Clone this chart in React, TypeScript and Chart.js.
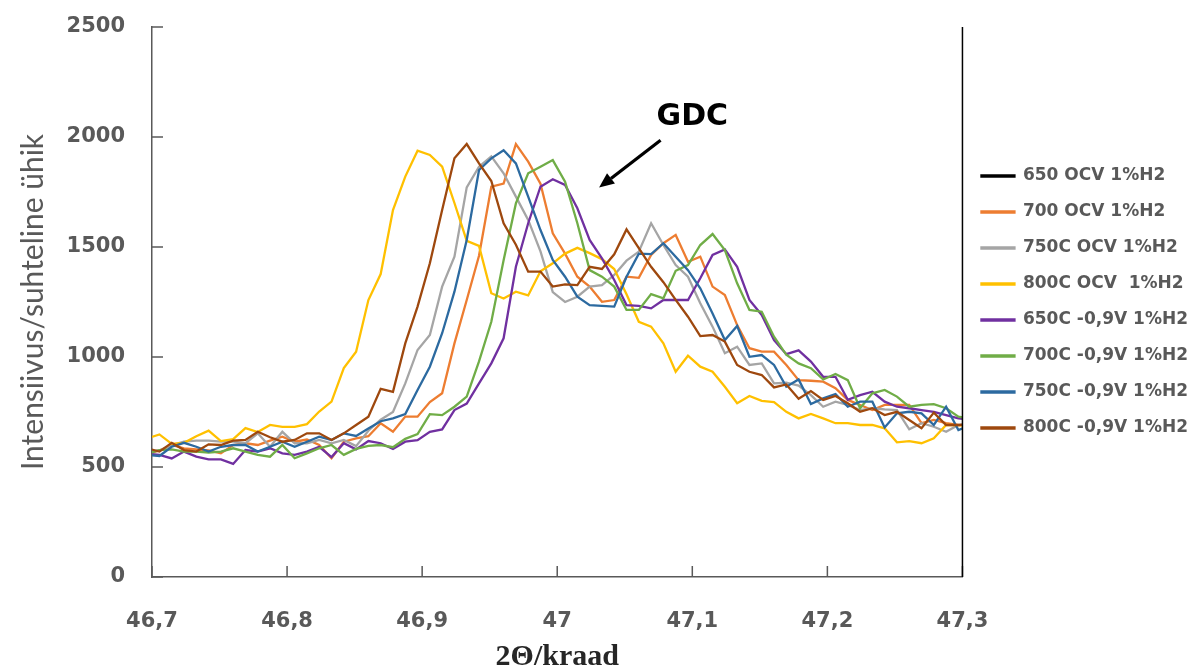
import React, { useEffect, useRef } from 'react';
import { Chart, registerables } from 'chart.js';

Chart.register(...registerables);

// 2Θ positions (measurement grid)
const XS = [
  46.6964, 46.7055, 46.7146, 46.7237, 46.7328, 46.7419, 46.7510, 46.7601, 46.7692, 46.7783,
  46.7874, 46.7965, 46.8056, 46.8147, 46.8238, 46.8329, 46.8420, 46.8511, 46.8602, 46.8693,
  46.8784, 46.8875, 46.8966, 46.9057, 46.9148, 46.9239, 46.9330, 46.9421, 46.9512, 46.9603,
  46.9694, 46.9785, 46.9876, 46.9967, 47.0058, 47.0149, 47.0240, 47.0331, 47.0422, 47.0513,
  47.0604, 47.0695, 47.0786, 47.0877, 47.0968, 47.1059, 47.1150, 47.1241, 47.1332, 47.1423,
  47.1514, 47.1605, 47.1696, 47.1787, 47.1878, 47.1969, 47.2060, 47.2151, 47.2242, 47.2333,
  47.2424, 47.2515, 47.2606, 47.2697, 47.2788, 47.2879, 47.2970, 47.3061,
];

const OCV650: number[] = [];

const OCV700 = [
  560, 575, 600, 585, 580, 575, 562, 600, 608, 600,
  620, 638, 615, 625, 600, 540, 615, 630, 640, 699,
  660, 729, 729, 795, 835, 1062, 1259, 1460, 1774, 1788,
  1968, 1888, 1788, 1562, 1470, 1365, 1320, 1251, 1259, 1365,
  1360, 1464, 1517, 1555, 1433, 1456, 1320, 1282, 1145, 1040,
  1024, 1024, 964, 895, 892, 888, 858, 805, 782, 759,
  782, 782, 782, 699, 714, 699, 691, 690,
];

const OCV750 = [
  570, 575, 600, 615, 620, 620, 615, 615, 608, 653,
  592, 660, 608, 608, 623, 608, 623, 595, 665, 715,
  750, 880, 1032, 1100, 1320, 1456, 1771, 1865, 1912, 1835,
  1729, 1623, 1480, 1295, 1250, 1274, 1320, 1327, 1373, 1438,
  1479, 1608, 1509, 1418, 1365, 1244, 1138, 1017, 1047, 964,
  971, 880, 883, 870, 827, 774, 797, 782, 759, 767,
  762, 759, 671, 699, 683, 660, 691, 695,
];

const OCV800 = [
  630, 648, 605, 610, 640, 665, 618, 627, 677, 659,
  691, 682, 682, 695, 752, 797, 950, 1024, 1259, 1377,
  1668, 1820, 1938, 1918, 1865, 1700, 1528, 1505, 1290, 1266,
  1297, 1280, 1390, 1426, 1470, 1496, 1472, 1445, 1400, 1285,
  1160, 1138, 1062, 933, 1006, 956, 933, 865, 790, 823,
  801, 795, 751, 721, 741, 721, 699, 699, 691, 691,
  676, 612, 618, 608, 630, 691, 690, 685,
];

const V650 = [
  560, 555, 539, 570, 547, 535, 535, 514, 577, 570,
  585, 562, 555, 570, 592, 545, 608, 580, 618, 608,
  582, 615, 622, 660, 671, 759, 788, 880, 971, 1085,
  1410, 1608, 1774, 1808, 1782, 1676, 1532, 1448, 1350, 1236,
  1232, 1221, 1259, 1259, 1259, 1358, 1464, 1489, 1410, 1259,
  1191, 1077, 1013, 1030, 979, 910, 910, 805, 827, 842,
  797, 774, 767, 759, 751, 736, 721, 716,
];

const V700 = [
  560, 577, 580, 570, 570, 566, 570, 585, 570, 555,
  547, 600, 540, 562, 585, 600, 555, 582, 596, 600,
  590, 628, 650, 740, 736, 774, 820, 980, 1160, 1440,
  1698, 1835, 1865, 1895, 1797, 1608, 1395, 1365, 1320, 1214,
  1214, 1286, 1267, 1392, 1418, 1509, 1559, 1486, 1335, 1214,
  1206, 1092, 1010, 971, 949, 898, 923, 895, 767, 835,
  850, 820, 774, 782, 786, 767, 729, 720,
];

const V750 = [
  555, 550, 592, 610, 592, 570, 592, 600, 600, 570,
  592, 615, 592, 615, 638, 623, 653, 641, 675, 708,
  721, 741, 850, 956, 1108, 1297, 1532, 1850, 1903, 1940,
  1880, 1729, 1577, 1441, 1365, 1274, 1236, 1232, 1229, 1365,
  1470, 1468, 1517, 1456, 1395, 1312, 1198, 1077, 1141, 1001,
  1009, 964, 865, 898, 786, 812, 832, 774, 797, 797,
  680, 744, 751, 744, 691, 774, 668, 690,
];

const V800 = [
  585, 570, 610, 577, 570, 603, 600, 620, 623, 660,
  635, 615, 623, 653, 653, 623, 653, 691, 729, 855,
  842, 1062, 1229, 1426, 1668, 1903, 1968, 1880, 1800, 1608,
  1510, 1388, 1388, 1320, 1330, 1327, 1410, 1400, 1467, 1580,
  1495, 1410, 1340, 1260, 1183, 1095, 1100, 1070, 964, 933,
  918, 862, 875, 810, 845, 805, 823, 790, 751, 767,
  736, 751, 714, 676, 747, 691, 691, 695,
];

const SERIES_NAMES = [
  '650 OCV 1%H2',
  '700 OCV 1%H2',
  '750C OCV 1%H2',
  '800C OCV  1%H2',
  '650C -0,9V 1%H2',
  '700C -0,9V 1%H2',
  '750C -0,9V 1%H2',
  '800C -0,9V 1%H2',
];
const SERIES_VALUES = [OCV650, OCV700, OCV750, OCV800, V650, V700, V750, V800];
const SERIES_COLORS = ['#000000', '#ED7D31', '#A5A5A5', '#FFC000', '#7030A0', '#70AD47', '#2C6AA0', '#9E480E'];

const X_TICK_VALUES = [46.7, 46.8, 46.9, 47.0, 47.1, 47.2, 47.3];
const X_TICK_LABELS = ['46,7', '46,8', '46,9', '47', '47,1', '47,2', '47,3'];
const Y_TICK_VALUES = [0, 500, 1000, 1500, 2000, 2500];

const X_TITLE = '2Θ/kraad';
const Y_TITLE = 'Intensiivus/suhteline ühik';

const NOTE_TEXT = 'GDC';
const NOTE_POS = { x: 47.1, y: 2088 };
const ARROW_FROM = { x: 47.0765, y: 1985 };
const ARROW_TO = { x: 47.031, y: 1770 };

const AXIS_GRAY = '#595959';

const decorPlugin = {
  id: 'decor',
  afterDraw(chart: any) {
    const { ctx, chartArea, scales } = chart;
    const xs = scales.x;
    const ys = scales.y;
    ctx.save();
    // inside tick marks
    ctx.strokeStyle = AXIS_GRAY;
    ctx.lineWidth = 1.5;
    ctx.beginPath();
    Y_TICK_VALUES.forEach((v) => {
      const py = ys.getPixelForValue(v);
      ctx.moveTo(chartArea.left, py);
      ctx.lineTo(chartArea.left + 11, py);
    });
    X_TICK_VALUES.forEach((v) => {
      const px = xs.getPixelForValue(v);
      ctx.moveTo(px, chartArea.bottom);
      ctx.lineTo(px, chartArea.bottom - 11);
    });
    ctx.stroke();
    // right border
    ctx.strokeStyle = '#000000';
    ctx.lineWidth = 1.5;
    ctx.beginPath();
    ctx.moveTo(chartArea.right, chartArea.top);
    ctx.lineTo(chartArea.right, chartArea.bottom);
    ctx.stroke();
    // GDC annotation
    ctx.fillStyle = '#000000';
    ctx.font = 'bold 30px "DejaVu Sans"';
    ctx.textAlign = 'center';
    ctx.textBaseline = 'middle';
    ctx.fillText(NOTE_TEXT, xs.getPixelForValue(NOTE_POS.x), ys.getPixelForValue(NOTE_POS.y));
    const x1 = xs.getPixelForValue(ARROW_FROM.x);
    const y1 = ys.getPixelForValue(ARROW_FROM.y);
    const x2 = xs.getPixelForValue(ARROW_TO.x);
    const y2 = ys.getPixelForValue(ARROW_TO.y);
    const ang = Math.atan2(y2 - y1, x2 - x1);
    const head = 15;
    const half = 6.5;
    const bx = x2 - head * Math.cos(ang);
    const by = y2 - head * Math.sin(ang);
    ctx.strokeStyle = '#000000';
    ctx.lineWidth = 3.2;
    ctx.beginPath();
    ctx.moveTo(x1, y1);
    ctx.lineTo(bx, by);
    ctx.stroke();
    ctx.beginPath();
    ctx.moveTo(x2, y2);
    ctx.lineTo(bx + half * Math.sin(ang), by - half * Math.cos(ang));
    ctx.lineTo(bx - half * Math.sin(ang), by + half * Math.cos(ang));
    ctx.closePath();
    ctx.fill();
    ctx.restore();
  },
};

export default function App() {
  const canvasRef = useRef<HTMLCanvasElement | null>(null);

  useEffect(() => {
    const canvas = canvasRef.current;
    if (!canvas) return;
    const datasets = SERIES_NAMES.map((name, i) => ({
      label: name,
      data: SERIES_VALUES[i].map((v, j) => ({ x: XS[j], y: v })),
      borderColor: SERIES_COLORS[i],
      backgroundColor: SERIES_COLORS[i],
      borderWidth: 2.3,
      pointRadius: 0,
      pointHoverRadius: 0,
      tension: 0,
      fill: false,
      order: SERIES_NAMES.length - i,
    }));

    const chart = new Chart(canvas, {
      type: 'line',
      data: { datasets },
      plugins: [decorPlugin],
      options: {
        animation: false,
        responsive: false,
        maintainAspectRatio: false,
        devicePixelRatio: 1,
        layout: { padding: { top: 27, right: 4, bottom: 0, left: 0 } },
        plugins: {
          tooltip: { enabled: false },
          legend: {
            display: true,
            position: 'right',
            align: 'center',
            fullSize: false,
            labels: {
              boxWidth: 33,
              boxHeight: 1,
              padding: 19,
              color: AXIS_GRAY,
              font: { family: '"DejaVu Sans"', weight: 'bold', size: 17 },
              sort: (a: any, b: any) => a.datasetIndex - b.datasetIndex,
            },
          },
        },
        scales: {
          x: {
            type: 'linear',
            min: 46.7,
            max: 47.3,
            afterBuildTicks: (scale: any) => {
              scale.ticks = X_TICK_VALUES.map((v) => ({ value: v }));
            },
            afterFit: (scale: any) => {
              scale.height = 92;
            },
            grid: { display: false, drawTicks: false },
            border: { display: true, color: AXIS_GRAY, width: 1.5 },
            ticks: {
              autoSkip: false,
              maxRotation: 0,
              padding: 32,
              color: AXIS_GRAY,
              font: { family: '"DejaVu Sans"', weight: 'bold', size: 21 },
              callback: (_v: any, i: number) => X_TICK_LABELS[i],
            },
            title: {
              display: true,
              text: X_TITLE,
              color: '#262626',
              font: { family: '"Liberation Serif"', weight: 'bold', size: 30, lineHeight: 1 },
              padding: { top: 0, bottom: -3 },
            },
          },
          y: {
            min: 0,
            max: 2500,
            afterBuildTicks: (scale: any) => {
              scale.ticks = Y_TICK_VALUES.map((v) => ({ value: v }));
            },
            afterFit: (scale: any) => {
              scale.width = 152;
              scale.paddingTop = 12;
              scale.paddingBottom = 12;
            },
            grid: { display: false, drawTicks: false },
            border: { display: true, color: AXIS_GRAY, width: 1.5 },
            ticks: {
              padding: 27,
              color: AXIS_GRAY,
              font: { family: '"DejaVu Sans"', weight: 'bold', size: 21 },
              callback: (v: any) => String(v),
            },
            title: {
              display: true,
              text: Y_TITLE,
              color: AXIS_GRAY,
              font: { family: 'Lato', weight: 'normal', size: 30, lineHeight: 1.2 },
              padding: { top: 15, bottom: 0 },
            },
          },
        },
      },
    });
    return () => chart.destroy();
  }, []);

  return (
    <div style={{ position: 'fixed', left: 0, top: 0, width: 1202, height: 669, background: '#ffffff' }}>
      <canvas ref={canvasRef} width={1202} height={669} style={{ display: 'block' }} />
    </div>
  );
}
